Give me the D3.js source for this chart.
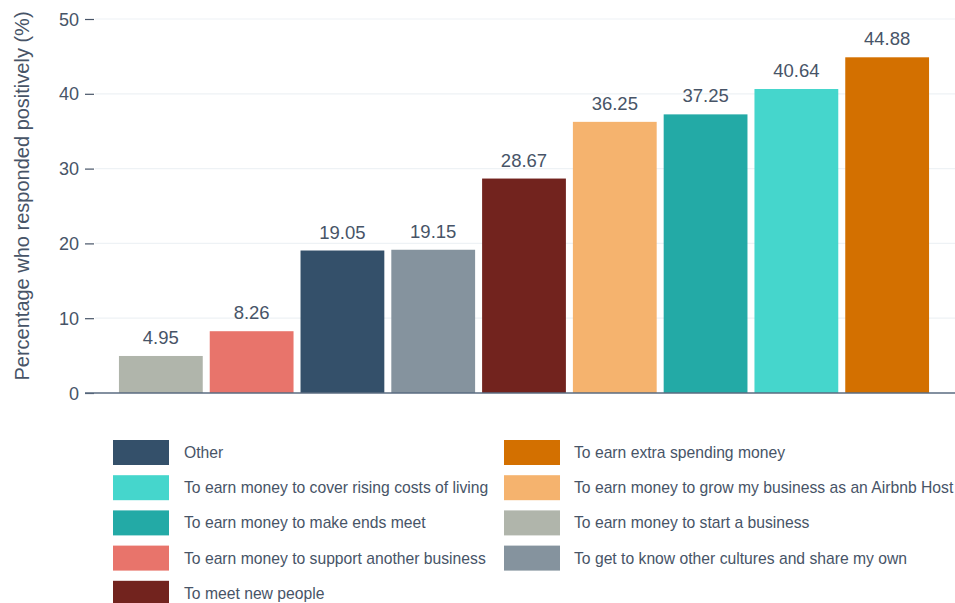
<!DOCTYPE html>
<html>
<head>
<meta charset="utf-8">
<script src="https://cdn.jsdelivr.net/npm/d3@7"></script>
<style>
  html, body { margin: 0; padding: 0; background: #fff; }
  svg { display: block; font-family: Arial, "Liberation Sans", Helvetica, sans-serif; }
</style>
</head>
<body>
<svg id="chart" width="955" height="603"></svg>
<script>
// Data (bar order, left to right)
const categories = [
  "To earn money to start a business",
  "To earn money to support another business",
  "Other",
  "To get to know other cultures and share my own",
  "To meet new people",
  "To earn money to grow my business as an Airbnb Host",
  "To earn money to make ends meet",
  "To earn money to cover rising costs of living",
  "To earn extra spending money"
];
const values = [4.95, 8.26, 19.05, 19.15, 28.67, 36.25, 37.25, 40.64, 44.88];
const colors = ["#b0b5ab", "#e8746b", "#34506a", "#85939e", "#72231e", "#f5b36e", "#23aaa6", "#45d6cc", "#d37000"];
const yTicks = [0, 10, 20, 30, 40, 50];
const yLabel = "Percentage who responded positively (%)";
// Legend order (alphabetical, two columns)
const legendLeft = ["Other", "To earn money to cover rising costs of living", "To earn money to make ends meet", "To earn money to support another business", "To meet new people"];
const legendRight = ["To earn extra spending money", "To earn money to grow my business as an Airbnb Host", "To earn money to start a business", "To get to know other cultures and share my own"];

const textColor = "#475467";
const svg = d3.select("#chart");
const color = d3.scaleOrdinal().domain(categories).range(colors);

const x = d3.scaleBand().domain(categories).range([115.5, 932.5]).paddingInner(0.077).paddingOuter(0.038);
const y = d3.scaleLinear().domain([0, 50]).range([393, 19]);

// gridlines
svg.append("g").selectAll("line").data(yTicks.filter(d => d > 0)).join("line")
  .attr("x1", 95).attr("x2", 955)
  .attr("y1", d => y(d)).attr("y2", d => y(d))
  .attr("stroke", "#eef2f5").attr("stroke-width", 1.2);

// y axis
const yAxis = d3.axisLeft(y).tickValues(yTicks).tickSize(9).tickPadding(6);
const gy = svg.append("g").attr("transform", "translate(94,0)").call(yAxis);
gy.select(".domain").remove();
gy.selectAll(".tick line").attr("stroke", textColor).attr("stroke-width", 1.2);
gy.selectAll(".tick text").attr("fill", textColor).style("font-size", "18px").attr("dy", "0.34em");

// bars
svg.append("g").selectAll("rect").data(categories).join("rect")
  .attr("x", d => x(d))
  .attr("width", x.bandwidth())
  .attr("y", (d, i) => y(values[i]))
  .attr("height", (d, i) => y(0) - y(values[i]))
  .attr("fill", d => color(d));

// value labels
svg.append("g").selectAll("text").data(categories).join("text")
  .attr("x", d => x(d) + x.bandwidth() / 2)
  .attr("y", (d, i) => y(values[i]) - 12)
  .attr("text-anchor", "middle")
  .attr("fill", textColor)
  .style("font-size", "18.5px")
  .text((d, i) => values[i].toFixed(2));

// baseline
svg.append("line").attr("x1", 85).attr("x2", 955).attr("y1", y(0)).attr("y2", y(0))
  .attr("stroke", "#5a6b80").attr("stroke-width", 1.5);

// y label
svg.append("text")
  .attr("transform", `translate(28.5,${(12 + 380) / 2}) rotate(-90)`)
  .attr("text-anchor", "middle")
  .attr("fill", textColor)
  .style("font-size", "20px")
  .text(yLabel);

// legend
function legendCol(items, x0, x1) {
  const g = svg.append("g");
  items.forEach((name, i) => {
    const yy = 440 + i * 35.2;
    g.append("rect").attr("x", x0).attr("y", yy).attr("width", 56).attr("height", 25).attr("fill", color(name));
    g.append("text").attr("x", x1).attr("y", yy + 12.5).attr("dy", "0.35em")
      .attr("fill", textColor).style("font-size", "15.7px").text(name);
  });
}
legendCol(legendLeft, 113, 184);
legendCol(legendRight, 504, 574);
</script>
</body>
</html>
